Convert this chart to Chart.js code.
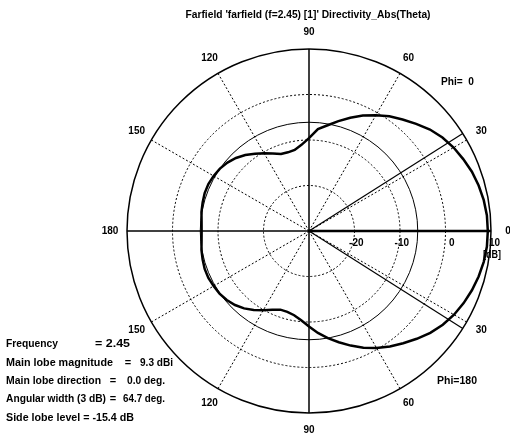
<!DOCTYPE html>
<html>
<head>
<meta charset="utf-8">
<script src="https://cdn.jsdelivr.net/npm/chart.js@4/dist/chart.umd.min.js"></script>
<style>
  html, body { margin: 0; padding: 0; background: #fff; }
  canvas { display: block; }
</style>
</head>
<body>
<canvas id="farfield" width="510" height="434"></canvas>
<script>
// Directivity cut, theta in degrees (5 degree steps)
const thetaDeg = [0, 5, 10, 15, 20, 25, 30, 35, 40, 45, 50, 55, 60, 65, 70, 75, 80, 85, 90,
  95, 100, 105, 110, 115, 120, 125, 130, 135, 140, 145, 150, 155, 160, 165, 170, 175, 180];

// Directivity (dBi) in the Phi = 0 half plane
const directivityPhi0 = [9.3, 9.25, 9.0, 8.6, 8.1, 7.4, 6.7, 5.8, 4.7, 3.3, 2.0, 0.8, -0.6, -2.0, -3.5, -5.0, -6.4, -7.5, -9.6,
  -11.0, -11.9, -12.1, -12.0, -11.2, -10.3, -9.3, -8.2, -7.3, -6.6, -6.1, -5.8, -5.6, -5.6, -5.8, -6.0, -6.3, -6.4];

// Directivity (dBi) in the Phi = 180 half plane
const directivityPhi180 = [9.3, 9.25, 9.0, 8.6, 8.1, 7.5, 6.8, 5.9, 4.8, 3.5, 2.2, 1.0, -0.3, -1.7, -3.2, -4.7, -6.1, -7.5, -9.0,
  -10.3, -11.2, -11.6, -11.6, -10.9, -9.9, -8.8, -7.8, -7.0, -6.4, -6.0, -5.8, -5.6, -5.6, -5.8, -6.0, -6.3, -6.4];

// Radial scale (dB) and its labels
const radialMin = -30;
const radialMax = 10;
const radialStep = 10;
const radialTickLabels = ['-20', '-10', '0', '10'];
const radialTickValues = [-20, -10, 0, 10];

// Angle labels every 30 degrees, counter-clockwise from the right
const angleTickDeg = [0, 30, 60, 90, 120, 150, 180, 210, 240, 270, 300, 330];
const angleTickLabels = ['0', '30', '60', '90', '120', '150', '180', '150', '120', '90', '60', '30'];

// Summary values
const frequencyGHz = 2.45;
const mainLobeMagnitude = 9.3;
const mainLobeDirection = 0.0;
const angularWidth3dB = 64.7;
const sideLobeLevel = -15.4;

const titleText = "Farfield 'farfield (f=2.45) [1]' Directivity_Abs(Theta)";

// Full circle in clockwise screen order starting at the right:
// lower half is Phi = 180 (theta 0..180), upper half is Phi = 0 (theta 180..0)
const stepDeg = thetaDeg[1] - thetaDeg[0];
const nPoints = Math.round(360 / stepDeg);
const circleLabels = [];
const circleValues = [];
for (let k = 0; k < nPoints; k++) {
  const cw = k * stepDeg;
  circleLabels.push(String(cw));
  if (cw <= 180) circleValues.push(directivityPhi180[k]);
  else circleValues.push(directivityPhi0[nPoints - k]);
}

const FONT = '"Liberation Sans", Arial, sans-serif';

function drawText(ctx, str, x, y, size, width, align) {
  ctx.save();
  ctx.font = 'bold ' + size + 'px ' + FONT;
  ctx.fillStyle = '#000';
  ctx.textBaseline = 'middle';
  ctx.textAlign = align || 'left';
  const w = ctx.measureText(str).width;
  const sx = width ? width / w : 1;
  ctx.translate(x, y);
  ctx.scale(sx, 1);
  ctx.fillText(str, 0, 0);
  ctx.restore();
}

const annotations = {
  id: 'annotations',
  afterDatasetsDraw(chart) {
    const ctx = chart.ctx;
    const r = chart.scales.r;
    const cx = r.xCenter, cy = r.yCenter;
    const indexOf = (ccwDeg) => (((360 - ccwDeg) % 360) + 360) % 360 / stepDeg;
    const outer = r.getDistanceFromCenterForValue(r.max);

    ctx.save();
    ctx.strokeStyle = '#000';
    ctx.lineWidth = 1;
    ctx.setLineDash([]);

    // side lobe level circle
    ctx.beginPath();
    ctx.arc(cx, cy, r.getDistanceFromCenterForValue(mainLobeMagnitude + sideLobeLevel), 0, Math.PI * 2);
    ctx.stroke();

    // 3 dB angular width limits
    ctx.lineWidth = 1.2;
    [mainLobeDirection + angularWidth3dB / 2, mainLobeDirection - angularWidth3dB / 2].forEach(a => {
      const p = r.getPointPosition(indexOf(a), outer);
      ctx.beginPath();
      ctx.moveTo(cx, cy);
      ctx.lineTo(p.x, p.y);
      ctx.stroke();
    });
    ctx.restore();

    // angle labels
    angleTickDeg.forEach((a, i) => {
      const p = r.getPointPosition(indexOf(a), outer + 17);
      drawText(ctx, angleTickLabels[i], p.x, p.y, 10, null, 'center');
    });

    // radial labels along the main lobe axis
    radialTickValues.forEach((v, i) => {
      const d = r.getDistanceFromCenterForValue(v);
      drawText(ctx, radialTickLabels[i], cx + d + 9, cy + 12, 10, null, 'right');
    });
    drawText(ctx, '[dB]', cx + outer + 1, cy + 24, 10, 18, 'center');

    // title
    drawText(ctx, titleText, 308, 15, 10, 245, 'center');

    // cut labels
    drawText(ctx, 'Phi=  0', 441, 82, 10, 33, 'left');
    drawText(ctx, 'Phi=180', 437, 381, 10, 40, 'left');

    // summary
    drawText(ctx, 'Frequency', 6, 344, 11, 52, 'left');
    drawText(ctx, '= ' + frequencyGHz.toFixed(2), 95, 344, 11, 35, 'left');
    drawText(ctx, 'Main lobe magnitude', 6, 363, 11, 107, 'left');
    drawText(ctx, '=', 128, 363, 11, null, 'center');
    drawText(ctx, mainLobeMagnitude.toFixed(1) + ' dBi', 140, 363, 11, 33, 'left');
    drawText(ctx, 'Main lobe direction', 6, 381, 11, 95, 'left');
    drawText(ctx, '=', 113, 381, 11, null, 'center');
    drawText(ctx, mainLobeDirection.toFixed(1) + ' deg.', 127, 381, 11, 38, 'left');
    drawText(ctx, 'Angular width (3 dB)', 6, 399, 11, 100, 'left');
    drawText(ctx, '=', 113, 399, 11, null, 'center');
    drawText(ctx, angularWidth3dB.toFixed(1) + ' deg.', 123, 399, 11, 42, 'left');
    drawText(ctx, 'Side lobe level = ' + sideLobeLevel.toFixed(1) + ' dB', 6, 418, 11, 128, 'left');
  }
};

const lastTick = Math.round((radialMax - radialMin) / radialStep);

new Chart(document.getElementById('farfield'), {
  type: 'radar',
  data: {
    labels: circleLabels,
    datasets: [{
      data: circleValues,
      borderColor: '#000',
      borderWidth: 2.5,
      pointRadius: 0,
      fill: false,
      tension: 0
    }]
  },
  options: {
    responsive: false,
    animation: false,
    devicePixelRatio: 1,
    layout: { padding: { left: 127, right: 19, top: 49, bottom: 21 } },
    plugins: { legend: { display: false }, tooltip: { enabled: false } },
    scales: {
      r: {
        min: radialMin,
        max: radialMax,
        startAngle: 90,
        ticks: { display: false, stepSize: radialStep },
        pointLabels: { display: false },
        grid: {
          circular: true,
          color: '#000',
          lineWidth: (c) => (c.index === lastTick ? 1.5 : 1)
        },
        border: { dash: (c) => (c.index === lastTick ? [] : [2, 2]) },
        angleLines: {
          color: '#000',
          lineWidth: (c) => {
            const deg = c.index * stepDeg;
            if (deg % 30 !== 0) return 0;
            if (deg === 0) return 2.5;
            return deg % 90 === 0 ? 1.5 : 1;
          },
          borderDash: (c) => ((c.index * stepDeg) % 90 === 0 ? [] : [2, 2])
        }
      }
    }
  },
  plugins: [annotations]
});
</script>
</body>
</html>
